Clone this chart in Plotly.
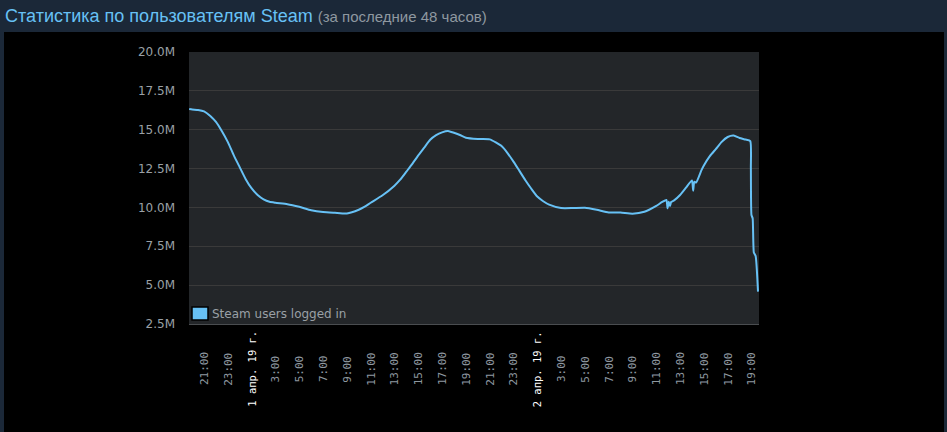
import plotly.graph_objects as go
import pandas as pd

# ---------------- data ----------------
times = [
    "2019-03-31 19:45", "2019-03-31 20:00", "2019-03-31 20:30", "2019-03-31 21:00",
    "2019-03-31 21:30", "2019-03-31 22:00", "2019-03-31 22:30", "2019-03-31 23:00",
    "2019-03-31 23:30", "2019-04-01 00:00", "2019-04-01 00:30", "2019-04-01 01:00",
    "2019-04-01 01:30", "2019-04-01 02:00", "2019-04-01 02:30", "2019-04-01 03:00",
    "2019-04-01 04:00", "2019-04-01 05:00", "2019-04-01 06:00", "2019-04-01 07:00",
    "2019-04-01 08:00", "2019-04-01 09:00", "2019-04-01 10:00", "2019-04-01 10:30",
    "2019-04-01 11:00", "2019-04-01 12:00", "2019-04-01 13:00", "2019-04-01 13:30",
    "2019-04-01 14:00", "2019-04-01 14:30", "2019-04-01 15:00", "2019-04-01 15:30",
    "2019-04-01 16:00", "2019-04-01 16:30", "2019-04-01 17:00", "2019-04-01 17:30",
    "2019-04-01 18:00", "2019-04-01 18:30", "2019-04-01 19:00", "2019-04-01 20:00",
    "2019-04-01 21:00", "2019-04-01 22:00", "2019-04-01 22:30", "2019-04-01 23:00",
    "2019-04-01 23:30", "2019-04-02 00:00", "2019-04-02 00:30", "2019-04-02 01:00",
    "2019-04-02 01:30", "2019-04-02 02:00", "2019-04-02 03:00", "2019-04-02 04:00",
    "2019-04-02 05:00", "2019-04-02 06:00", "2019-04-02 07:00", "2019-04-02 08:00",
    "2019-04-02 09:00", "2019-04-02 10:00", "2019-04-02 11:00", "2019-04-02 11:30",
    "2019-04-02 11:51", "2019-04-02 11:57", "2019-04-02 12:03", "2019-04-02 12:09",
    "2019-04-02 12:15", "2019-04-02 12:30", "2019-04-02 13:00", "2019-04-02 13:30",
    "2019-04-02 14:00", "2019-04-02 14:06", "2019-04-02 14:12", "2019-04-02 14:21",
    "2019-04-02 14:48", "2019-04-02 15:00", "2019-04-02 15:30", "2019-04-02 16:00",
    "2019-04-02 16:30", "2019-04-02 17:00", "2019-04-02 17:30", "2019-04-02 18:00",
    "2019-04-02 18:30", "2019-04-02 18:54", "2019-04-02 18:57", "2019-04-02 19:00",
    "2019-04-02 19:06", "2019-04-02 19:12", "2019-04-02 19:21", "2019-04-02 19:33",
]
users_millions = [
    16.33, 16.30, 16.27, 16.18,
    15.90, 15.50, 14.90, 14.20,
    13.35, 12.58, 11.82, 11.22,
    10.80, 10.52, 10.36, 10.30,
    10.21, 10.04, 9.82, 9.70,
    9.65, 9.61, 9.85, 10.05,
    10.30, 10.78, 11.40, 11.80,
    12.30, 12.80, 13.35, 13.85,
    14.35, 14.65, 14.83, 14.92,
    14.80, 14.66, 14.48, 14.40,
    14.38, 13.95, 13.50, 12.95,
    12.35, 11.75, 11.20, 10.70,
    10.40, 10.18, 9.96, 9.96,
    9.98, 9.85, 9.68, 9.67,
    9.60, 9.72, 10.10, 10.35,
    10.48, 9.94, 10.37, 10.09,
    10.35, 10.45, 10.80, 11.27,
    11.74, 11.08, 11.66, 11.60,
    12.40, 12.70, 13.30, 13.75,
    14.22, 14.53, 14.62, 14.47,
    14.37, 14.27, 12.50, 9.51,
    9.30, 7.10, 6.88, 4.58,
]
users = [v * 1e6 for v in users_millions]

y_tick_values = [2.5e6, 5e6, 7.5e6, 10e6, 12.5e6, 15e6, 17.5e6, 20e6]
y_tick_labels = ["2.5M", "5.0M", "7.5M", "10.0M", "12.5M", "15.0M", "17.5M", "20.0M"]

x_tick_labels = [
    "21:00", "23:00", "1 апр. 19 г.", "3:00", "5:00", "7:00", "9:00", "11:00",
    "13:00", "15:00", "17:00", "19:00", "21:00", "23:00", "2 апр. 19 г.", "3:00",
    "5:00", "7:00", "9:00", "11:00", "13:00", "15:00", "17:00", "19:00",
]
x_tick_times = pd.date_range("2019-03-31 21:00", periods=len(x_tick_labels), freq="2h")

series_name = "Steam users logged in"
title_main = "Статистика по пользователям Steam"
title_sub = "(за последние 48 часов)"

# ---------------- layout geometry ----------------
W, H = 947, 432
PL, PR, PT, PB = 189, 759, 52, 324  # plot area in px
pw, ph = PR - PL, PB - PT


def px_x(x):
    return (x - PL) / pw


def px_y(y):
    return (PB - y) / ph


LINE = "#67c1f5"

fig = go.Figure()
fig.add_trace(go.Scatter(
    x=pd.to_datetime(times), y=users, mode="lines", name=series_name,
    line=dict(color=LINE, width=2, shape="spline", smoothing=0.5),
    showlegend=False, hoverinfo="x+y",
))

shapes = [
    # black panel
    dict(type="rect", xref="paper", yref="paper", layer="below",
         x0=px_x(4), x1=px_x(944), y0=px_y(H + 5), y1=px_y(32),
         fillcolor="#000000", line=dict(width=0)),
    # plot area background
    dict(type="rect", xref="paper", yref="paper", layer="below",
         x0=0, x1=1, y0=0, y1=1, fillcolor="#232629", line=dict(width=0)),
    # legend swatch
    dict(type="rect", xref="paper", yref="paper", layer="above",
         x0=px_x(192), x1=px_x(208), y0=px_y(320), y1=px_y(307),
         fillcolor=LINE, line=dict(color="#000000", width=1.5)),
]

annotations = [
    dict(text=series_name, xref="paper", yref="paper", x=px_x(210), y=px_y(314),
         xanchor="left", yanchor="middle", showarrow=False,
         font=dict(family="DejaVu Sans", size=12, color="#9aa0a6")),
]
for t, lab in zip(x_tick_times, x_tick_labels):
    is_date = "г." in lab
    annotations.append(dict(
        text=lab, x=t, xref="x", y=px_y(369), yref="paper", textangle=-90,
        xanchor="center", yanchor="middle", showarrow=False,
        font=dict(family="DejaVu Sans Mono", size=10.5 if is_date else 11,
                  color="#ffffff" if is_date else "#8f98a0"),
    ))

fig.update_layout(
    width=W, height=H,
    margin=dict(l=PL, r=W - PR, t=PT, b=H - PB, pad=0),
    paper_bgcolor="#1b2838",
    plot_bgcolor="#232629",
    showlegend=False,
    title=dict(
        text=(f"<span style='color:{LINE};font-size:18px'>{title_main}</span> "
              f"<span style='color:#8f98a0;font-size:15px'>{title_sub}</span>"),
        xref="container", yref="container", x=5 / W, y=1 - 16 / H,
        xanchor="left", yanchor="middle",
        font=dict(family="Liberation Sans, Arial", size=18, color=LINE),
    ),
    xaxis=dict(
        type="date",
        range=["2019-03-31 19:44", "2019-04-02 19:38"],
        showgrid=False, zeroline=False, showticklabels=False, ticks="",
        showline=True, linecolor="#4a4d50", linewidth=1,
        fixedrange=True,
    ),
    yaxis=dict(
        range=[2.5e6, 20e6],
        tickvals=y_tick_values, ticktext=y_tick_labels,
        showgrid=True, gridcolor="#3a3a3a", gridwidth=1,
        zeroline=False, ticks="", ticklabelstandoff=13,
        tickfont=dict(family="DejaVu Sans", size=12, color="#9aa0a6"),
        showline=False, fixedrange=True,
    ),
    shapes=shapes,
    annotations=annotations,
    font=dict(family="DejaVu Sans"),
)

fig.write_html("out.html")
